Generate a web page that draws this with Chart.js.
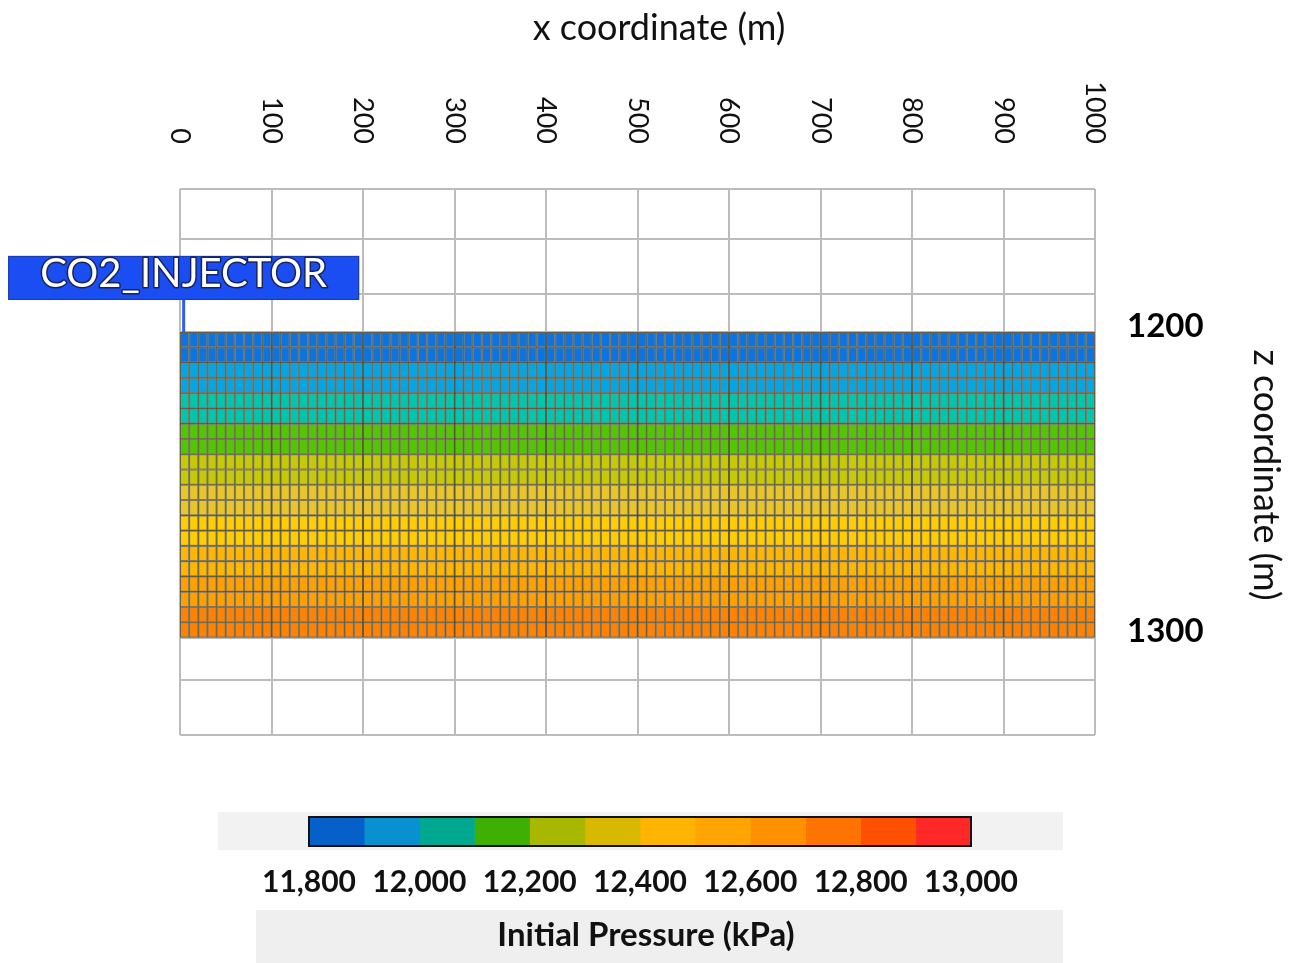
<!DOCTYPE html>
<html>
<head>
<meta charset="utf-8">
<script src="https://cdn.jsdelivr.net/npm/chart.js@4.4.1/dist/chart.umd.min.js"></script>
<style>
  html, body { margin: 0; padding: 0; background: #ffffff; }
  #wrap { position: relative; width: 1292px; height: 963px; overflow: hidden; background: #fff; }
  #main { position: absolute; left: 0; top: 0; }
  #bar { position: absolute; left: 0; top: 800px; }
</style>
</head>
<body>
<div id="wrap">
  <canvas id="main" width="1292" height="963"></canvas>
  <canvas id="bar" width="1292" height="163"></canvas>
</div>
<script>
// ---------------- DATA ----------------
const xTickValues = [0, 100, 200, 300, 400, 500, 600, 700, 800, 900, 1000];
const xMin = 0, xMax = 1000;
const cellWidth = 10;              // m, uniform grid blocks in x
const cellCount = 100;             // number of blocks along x
const layerTopZ = [1200, 1205, 1210, 1215, 1220, 1225, 1230, 1235, 1240, 1245,
                   1250, 1255, 1260, 1265, 1270, 1275, 1280, 1285, 1290, 1295];
const layerThickness = 5;          // m
const layerPressure = [11825, 11875, 11925, 11975, 12025, 12075, 12125, 12175, 12225, 12275,
                       12325, 12375, 12425, 12475, 12525, 12575, 12625, 12675, 12725, 12775];
const zGridValues = [1153.2, 1169.6, 1187.6, 1200, 1300, 1313.9, 1331.9];
const zLabelValues = [1200, 1300];
const zMin = 1153.2, zMax = 1331.9;
const wellName = 'CO2_INJECTOR';
const wellX = [4, 4];
const wellZ = [1189.5, 1200];
const colorbarEdges = [11800, 11900, 12000, 12100, 12200, 12300, 12400, 12500, 12600, 12700, 12800, 12900, 13000];
const colorbarTicks = [11800, 12000, 12200, 12400, 12600, 12800, 13000];

// ---------------- STYLES ----------------
const cellPalette = ['#0b74e2', '#02a6e6', '#00c6ae', '#52c602', '#c6ca04', '#e8c62a',
                     '#ffcd02', '#ffb602', '#ffa002', '#ff8202', '#ff5a00', '#ff2a2a'];
const barPalette  = ['#0560c8', '#0890d0', '#00a890', '#40b000', '#a8b800', '#d8b800',
                     '#ffb400', '#ffa400', '#ff9000', '#ff7400', '#ff5000', '#ff2828'];
const FONT = 'Lato, "Open Sans", sans-serif';

function binIndex(p) {
  for (let i = 0; i < colorbarEdges.length - 1; i++) {
    if (p >= colorbarEdges[i] && p < colorbarEdges[i + 1]) return i;
  }
  return colorbarEdges.length - 2;
}

// ---------------- MAIN CHART ----------------
const datasets = layerTopZ.map((zt, li) => {
  const data = [];
  for (let c = 0; c < cellCount; c++) {
    data.push({ x: xMin + c * cellWidth + cellWidth / 2, y: [zt, zt + layerThickness] });
  }
  return {
    type: 'bar',
    data: data,
    backgroundColor: cellPalette[binIndex(layerPressure[li])],
    borderColor: 'rgba(45,35,0,0.6)',
    borderWidth: 1.4,
    borderSkipped: false,
    grouped: false,
    barPercentage: 1,
    categoryPercentage: 1,
    order: 2
  };
});
datasets.push({
  type: 'line',
  label: wellName,
  data: wellX.map((x, i) => ({ x: x, y: wellZ[i] })),
  borderColor: '#2f5ee8',
  borderWidth: 3,
  pointRadius: 0,
  order: 1
});

const overlay = {
  id: 'overlay',
  afterDraw(chart) {
    const ctx = chart.ctx;
    const xs = chart.scales.x, ys = chart.scales.y;
    ctx.save();
    // x tick labels (rotated clockwise, reading top to bottom)
    ctx.font = '27px ' + FONT;
    ctx.fillStyle = '#111';
    ctx.textAlign = 'right';
    ctx.textBaseline = 'middle';
    xs.ticks.forEach(t => {
      const px = xs.getPixelForValue(t.value);
      ctx.save();
      ctx.translate(px, 144);
      ctx.rotate(Math.PI / 2);
      ctx.fillText(String(t.value), 0, 0);
      ctx.restore();
    });
    // axis titles
    ctx.font = '36px ' + FONT;
    ctx.textAlign = 'center';
    ctx.fillText('x coordinate (m)', 659, 28);
    ctx.save();
    ctx.translate(1266, 475);
    ctx.rotate(Math.PI / 2);
    ctx.fillText('z coordinate (m)', 0, 0);
    ctx.restore();
    // well label box anchored on well top
    const wx = xs.getPixelForValue(wellX[0]);
    const wy = ys.getPixelForValue(wellZ[0]);
    const bw = 351, bh = 44;
    ctx.fillStyle = '#1a4ef2';
    ctx.fillRect(wx - bw / 2, wy - bh, bw, bh);
    ctx.strokeStyle = '#1a3aa8';
    ctx.lineWidth = 1;
    ctx.strokeRect(wx - bw / 2 + 0.5, wy - bh + 0.5, bw - 1, bh - 1);
    ctx.font = '40px ' + FONT;
    ctx.textAlign = 'center';
    ctx.textBaseline = 'middle';
    ctx.lineJoin = 'round';
    ctx.strokeStyle = 'rgba(20,20,40,0.75)';
    ctx.lineWidth = 3;
    ctx.strokeText(wellName, wx, wy - bh / 2 - 4);
    ctx.fillStyle = '#ffffff';
    ctx.fillText(wellName, wx, wy - bh / 2 - 4);
    ctx.restore();
  }
};

new Chart(document.getElementById('main'), {
  type: 'bar',
  data: { datasets: datasets },
  options: {
    responsive: false,
    animation: false,
    events: [],
    layout: { padding: { left: 180, right: 0, top: 0, bottom: 228 } },
    plugins: { legend: { display: false }, tooltip: { enabled: false }, title: { display: false } },
    scales: {
      x: {
        type: 'linear',
        position: 'top',
        min: xMin, max: xMax,
        offset: false,
        afterBuildTicks: s => { s.ticks = xTickValues.map(v => ({ value: v })); },
        afterFit: s => { s.height = 189; },
        ticks: { display: false, autoSkip: false },
        grid: { color: '#bcbcbc', lineWidth: 2, offset: false, drawTicks: false },
        border: { display: false }
      },
      y: {
        type: 'linear',
        position: 'right',
        reverse: true,
        min: zMin, max: zMax,
        afterBuildTicks: s => { s.ticks = zGridValues.map(v => ({ value: v })); },
        afterFit: s => { s.width = 197; },
        ticks: {
          autoSkip: false,
          padding: 32,
          labelOffset: -6,
          color: '#000',
          font: { family: FONT, size: 33, weight: 'bold' },
          callback: v => zLabelValues.includes(v) ? String(v) : ''
        },
        grid: { color: '#bcbcbc', lineWidth: 2, drawTicks: false },
        border: { display: false }
      }
    }
  },
  plugins: [overlay]
});

// ---------------- COLOR BAR ----------------
const barBg = {
  id: 'barBg',
  beforeDraw(chart) {
    const ctx = chart.ctx;
    ctx.save();
    ctx.fillStyle = '#f2f2f2';
    ctx.fillRect(218, 12, 845, 38);
    ctx.fillStyle = '#efefef';
    ctx.fillRect(256, 110, 807, 53);
    ctx.restore();
  },
  afterDraw(chart) {
    const ctx = chart.ctx;
    const a = chart.chartArea;
    ctx.save();
    ctx.strokeStyle = '#111';
    ctx.lineWidth = 2;
    ctx.strokeRect(a.left, a.top, a.right - a.left, a.bottom - a.top);
    ctx.fillStyle = '#111';
    ctx.font = 'bold 33px ' + FONT;
    ctx.textAlign = 'center';
    ctx.textBaseline = 'middle';
    ctx.fillText('Initial Pressure (kPa)', 646, 135);
    ctx.restore();
  }
};

new Chart(document.getElementById('bar'), {
  type: 'bar',
  data: {
    labels: [''],
    datasets: barPalette.map((c, i) => ({
      data: [[colorbarEdges[i], colorbarEdges[i + 1]]],
      backgroundColor: c,
      borderWidth: 0,
      grouped: false,
      barPercentage: 1,
      categoryPercentage: 1
    }))
  },
  options: {
    indexAxis: 'y',
    responsive: false,
    animation: false,
    events: [],
    layout: { padding: { left: 309, right: 321, top: 17, bottom: 0 } },
    plugins: { legend: { display: false }, tooltip: { enabled: false } },
    scales: {
      x: {
        type: 'linear',
        position: 'bottom',
        min: colorbarEdges[0], max: colorbarEdges[colorbarEdges.length - 1],
        afterBuildTicks: s => { s.ticks = colorbarTicks.map(v => ({ value: v })); },
        afterFit: s => { s.height = 117; },
        ticks: {
          autoSkip: false,
          maxRotation: 0,
          padding: 18,
          color: '#111',
          font: { family: FONT, size: 30, weight: 'bold' },
          callback: v => Number(v).toLocaleString('en-US')
        },
        grid: { display: false, drawTicks: false },
        border: { display: false }
      },
      y: { display: false }
    }
  },
  plugins: [barBg]
});
</script>
</body>
</html>
